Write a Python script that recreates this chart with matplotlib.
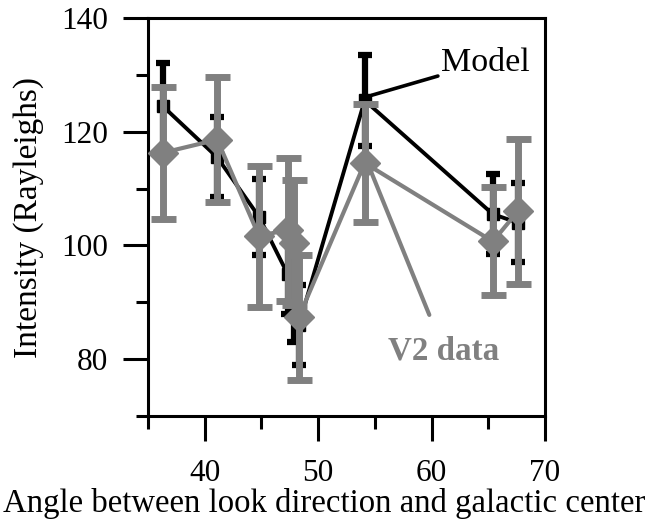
import matplotlib.pyplot as plt
from matplotlib.ticker import MultipleLocator

# angles (deg) and intensities (Rayleighs)
angle = [36.3, 41.1, 44.8, 47.3, 47.9, 48.3, 54.1, 65.4, 67.6]
v2_data = [116.3, 118.6, 101.6, 102.8, 100.5, 87.4, 114.5, 100.7, 106.0]
v2_err = [11.6, 11.0, 12.4, 12.5, 11.0, 11.0, 10.3, 9.5, 12.8]
model = [124.5, 115.5, 105.0, 95.0, 90.0, 86.0, 125.5, 105.5, 104.0]
model_err = [7.5, 7.0, 6.6, 7.0, 7.0, 7.0, 8.0, 7.0, 7.0]

plt.rcParams['font.family'] = ['Liberation Serif', 'DejaVu Serif']

fig = plt.figure(figsize=(6.5, 5.26), dpi=100)
ax = fig.add_axes([0.2277, 0.2091, 0.6108, 0.7567])

gray = "#808080"

# Model (black, underneath)
ax.errorbar(angle, model, yerr=model_err, color="k", lw=2.8,
            elinewidth=4.5, capsize=5, capthick=4.5,
            marker="s", ms=8, zorder=2)

# V2 data (gray diamonds)
ax.errorbar(angle, v2_data, yerr=v2_err, color=gray, lw=3,
            elinewidth=5, capsize=9, capthick=5,
            marker="D", ms=15, mec=gray, zorder=3)

# annotations
ax.annotate("Model", xy=(54.7, 126.4), xytext=(60.8, 132.2),
            fontsize=24.5, color="k", va="center", ha="left",
            arrowprops=dict(arrowstyle="-", color="k", lw=2.6,
                            shrinkA=0, shrinkB=0), zorder=5)
ax.annotate("V2 data", xy=(54.7, 112.8), xytext=(61.1, 81.4),
            fontsize=23.8, fontweight="bold", color=gray, va="center", ha="center",
            arrowprops=dict(arrowstyle="-", color=gray, lw=3,
                            shrinkA=14, shrinkB=0), zorder=5)

ax.set_xlim(35, 70)
ax.set_ylim(70, 140)
ax.xaxis.set_major_locator(MultipleLocator(10))
ax.xaxis.set_minor_locator(MultipleLocator(5))
ax.yaxis.set_major_locator(MultipleLocator(20))
ax.yaxis.set_minor_locator(MultipleLocator(10))

for s in ax.spines.values():
    s.set_linewidth(2.2)
ax.tick_params(which="major", direction="out", length=18, width=2.2,
               labelsize=22.5, pad=11)
ax.tick_params(which="minor", direction="out", length=9, width=2.2)
ax.tick_params(axis="x", which="major", pad=13)

# x label is centred on the figure, not on the axes
fig.text(0.499, 0.043, "Angle between look direction and galactic center",
         fontsize=23.6, ha="center", va="center")
ax.set_ylabel("Intensity (Rayleighs)", fontsize=24, labelpad=12)

plt.savefig("out.png", dpi=100)
